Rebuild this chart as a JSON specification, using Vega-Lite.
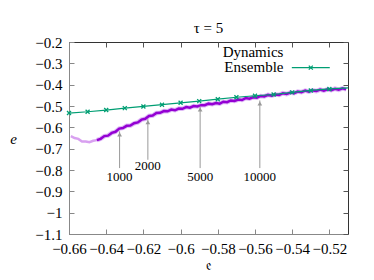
{
  "$schema": "https://vega.github.io/schema/vega-lite/v6.json",
  "width": 279,
  "height": 192,
  "autosize": "none",
  "padding": {"left": 69, "top": 42, "right": 26, "bottom": 46},
  "background": "white",
  "title": {"text": "τ = 5", "font": "Liberation Serif, serif", "fontSize": 15, "fontWeight": "normal", "color": "#000", "offset": 6, "dy": 7},
  "config": {
    "view": {"stroke": "#333", "strokeWidth": 1},
    "axis": {"labelFont": "Liberation Serif, serif", "labelFontSize": 15, "labelColor": "#000", "titleFont": "Liberation Serif, serif", "titleFontSize": 15, "titleFontWeight": "normal", "titleColor": "#000", "grid": false, "tickColor": "#888", "domainColor": "#888", "tickSize": -5, "labelPadding": 12, "labelOverlap": false, "labelFlush": false}
  },
  "datasets": {
    "early": [
      {"x": -0.659, "y": -0.641}, {"x": -0.657, "y": -0.650}, {"x": -0.655, "y": -0.654}, {"x": -0.653, "y": -0.666},
      {"x": -0.651, "y": -0.666}, {"x": -0.649, "y": -0.670}, {"x": -0.647, "y": -0.663}, {"x": -0.645, "y": -0.660}
    ],
    "dyn": [
      {"x": -0.645, "y": -0.660}, {"x": -0.643, "y": -0.654}, {"x": -0.641, "y": -0.641}, {"x": -0.639, "y": -0.639},
      {"x": -0.637, "y": -0.626}, {"x": -0.635, "y": -0.621}, {"x": -0.633, "y": -0.606}, {"x": -0.631, "y": -0.603},
      {"x": -0.629, "y": -0.593}, {"x": -0.627, "y": -0.592}, {"x": -0.625, "y": -0.581}, {"x": -0.623, "y": -0.577},
      {"x": -0.621, "y": -0.564}, {"x": -0.619, "y": -0.560}, {"x": -0.617, "y": -0.547}, {"x": -0.615, "y": -0.545},
      {"x": -0.613, "y": -0.533}, {"x": -0.611, "y": -0.532}, {"x": -0.609, "y": -0.524}, {"x": -0.607, "y": -0.525},
      {"x": -0.605, "y": -0.517}, {"x": -0.603, "y": -0.520}, {"x": -0.601, "y": -0.512}, {"x": -0.599, "y": -0.513},
      {"x": -0.597, "y": -0.505}, {"x": -0.595, "y": -0.508}, {"x": -0.593, "y": -0.500}, {"x": -0.591, "y": -0.502},
      {"x": -0.589, "y": -0.496}, {"x": -0.587, "y": -0.496}, {"x": -0.585, "y": -0.489}, {"x": -0.583, "y": -0.492},
      {"x": -0.581, "y": -0.486}, {"x": -0.579, "y": -0.489}, {"x": -0.577, "y": -0.480}, {"x": -0.575, "y": -0.482},
      {"x": -0.573, "y": -0.474}, {"x": -0.571, "y": -0.476}, {"x": -0.569, "y": -0.470}, {"x": -0.567, "y": -0.472},
      {"x": -0.565, "y": -0.463}, {"x": -0.563, "y": -0.466}, {"x": -0.561, "y": -0.459}, {"x": -0.559, "y": -0.461},
      {"x": -0.557, "y": -0.453}, {"x": -0.555, "y": -0.455}, {"x": -0.553, "y": -0.448}, {"x": -0.551, "y": -0.452},
      {"x": -0.549, "y": -0.446}, {"x": -0.547, "y": -0.448}, {"x": -0.545, "y": -0.440}, {"x": -0.543, "y": -0.444},
      {"x": -0.541, "y": -0.437}, {"x": -0.539, "y": -0.440}, {"x": -0.537, "y": -0.432}, {"x": -0.535, "y": -0.435},
      {"x": -0.533, "y": -0.428}, {"x": -0.531, "y": -0.433}, {"x": -0.529, "y": -0.427}, {"x": -0.527, "y": -0.430},
      {"x": -0.525, "y": -0.423}, {"x": -0.523, "y": -0.428}, {"x": -0.521, "y": -0.422}, {"x": -0.519, "y": -0.426},
      {"x": -0.517, "y": -0.419}, {"x": -0.515, "y": -0.424}, {"x": -0.513, "y": -0.417}, {"x": -0.511, "y": -0.422}
    ],
    "ens": [
      {"x": -0.66, "y": -0.533}, {"x": -0.65, "y": -0.527}, {"x": -0.64, "y": -0.519}, {"x": -0.63, "y": -0.510},
      {"x": -0.62, "y": -0.502}, {"x": -0.61, "y": -0.494}, {"x": -0.60, "y": -0.485}, {"x": -0.59, "y": -0.477},
      {"x": -0.58, "y": -0.468}, {"x": -0.57, "y": -0.459}, {"x": -0.56, "y": -0.452}, {"x": -0.55, "y": -0.446},
      {"x": -0.54, "y": -0.436}, {"x": -0.53, "y": -0.427}, {"x": -0.52, "y": -0.420}, {"x": -0.51, "y": -0.415}
    ],
    "arrows": [
      {"label": "1000", "x": -0.6328, "y": -0.791, "tip": -0.619, "ty": -0.833},
      {"label": "2000", "x": -0.6176, "y": -0.752, "tip": -0.562, "ty": -0.783},
      {"label": "5000", "x": -0.5895, "y": -0.791, "tip": -0.502, "ty": -0.833},
      {"label": "10000", "x": -0.5574, "y": -0.791, "tip": -0.474, "ty": -0.833}
    ],
    "legtext": [
      {"label": "Dynamics", "x": -0.5447, "y": -0.247},
      {"label": "Ensemble", "x": -0.5447, "y": -0.318}
    ],
    "legline": [
      {"x": -0.5402, "y": -0.320}, {"x": -0.5198, "y": -0.320}
    ],
    "legmark": [
      {"x": -0.530, "y": -0.320}
    ]
  },
  "layer": [
    {
      "encoding": {
        "x": {"field": "x", "type": "quantitative",
          "scale": {"domain": [-0.66, -0.51], "nice": false, "zero": false},
          "axis": {"title": "𝔢", "values": [-0.66, -0.64, -0.62, -0.6, -0.58, -0.56, -0.54, -0.52], "format": "~g", "titleY": 30, "titleBaseline": "middle", "titleFontSize": 15}},
        "y": {"field": "y", "type": "quantitative",
          "scale": {"domain": [-1.1, -0.2], "nice": false, "zero": false},
          "axis": {"title": "e", "values": [-1.1, -1, -0.9, -0.8, -0.7, -0.6, -0.5, -0.4, -0.3, -0.2], "format": "~g", "titleAngle": 0, "titleFontStyle": "italic", "titleX": -56, "titleY": 96, "titleAlign": "center", "titleBaseline": "middle"}}
      },
      "layer": [
        {"data": {"name": "early"}, "mark": {"type": "line", "color": "#d8a0f0", "strokeWidth": 2.5, "clip": true}},
        {"data": {"name": "dyn"}, "mark": {"type": "line", "color": "#c98cf0", "strokeWidth": 4.5, "opacity": 0.6, "clip": true}},
        {"data": {"name": "dyn"}, "mark": {"type": "line", "color": "#9400d3", "strokeWidth": 2.5, "clip": true}},
        {"data": {"name": "ens"}, "mark": {"type": "line", "color": "#009e73", "strokeWidth": 1.2, "clip": true}},
        {"data": {"name": "ens"}, "transform": [{"filter": "datum.x < -0.515"}], "mark": {"type": "point", "shape": "M-1,-1L1,1M-1,1L1,-1", "size": 16, "filled": false, "color": "#009e73", "strokeWidth": 1.3, "opacity": 1}},
        {"data": {"name": "arrows"}, "mark": {"type": "rule", "color": "#999", "strokeWidth": 1}, "encoding": {"y2": {"field": "tip"}}},
        {"data": {"name": "arrows"}, "mark": {"type": "point", "shape": "triangle-up", "size": 22, "filled": true, "color": "#999", "opacity": 1, "yOffset": 3}, "encoding": {"y": {"field": "tip", "type": "quantitative"}}},
        {"data": {"name": "arrows"}, "mark": {"type": "text", "font": "Liberation Serif, serif", "fontSize": 13, "color": "#000", "baseline": "middle", "align": "center"}, "encoding": {"y": {"field": "ty", "type": "quantitative"}, "text": {"field": "label"}}},
        {"data": {"name": "legtext"}, "mark": {"type": "text", "font": "Liberation Serif, serif", "fontSize": 15, "color": "#000", "baseline": "middle", "align": "right"}, "encoding": {"text": {"field": "label"}}},
        {"data": {"name": "legline"}, "mark": {"type": "line", "color": "#009e73", "strokeWidth": 1.2}},
        {"data": {"name": "legmark"}, "mark": {"type": "point", "shape": "M-1,-1L1,1M-1,1L1,-1", "size": 16, "filled": false, "color": "#009e73", "strokeWidth": 1.3, "opacity": 1}}
      ]
    },
    {
      "data": {"name": "legmark"},
      "mark": {"type": "point", "opacity": 0},
      "encoding": {
        "x": {"field": "x", "type": "quantitative", "scale": {"domain": [-0.66, -0.51], "nice": false, "zero": false},
          "axis": {"orient": "top", "labels": false, "title": null, "domain": false, "values": [-0.66, -0.64, -0.62, -0.6, -0.58, -0.56, -0.54, -0.52], "tickColor": "#555"}},
        "y": {"field": "y", "type": "quantitative", "scale": {"domain": [-1.1, -0.2], "nice": false, "zero": false},
          "axis": {"orient": "right", "labels": false, "title": null, "domain": false, "values": [-1.1, -1, -0.9, -0.8, -0.7, -0.6, -0.5, -0.4, -0.3, -0.2], "tickColor": "#555"}}
      }
    }
  ],
  "resolve": {"axis": {"x": "independent", "y": "independent"}}
}
